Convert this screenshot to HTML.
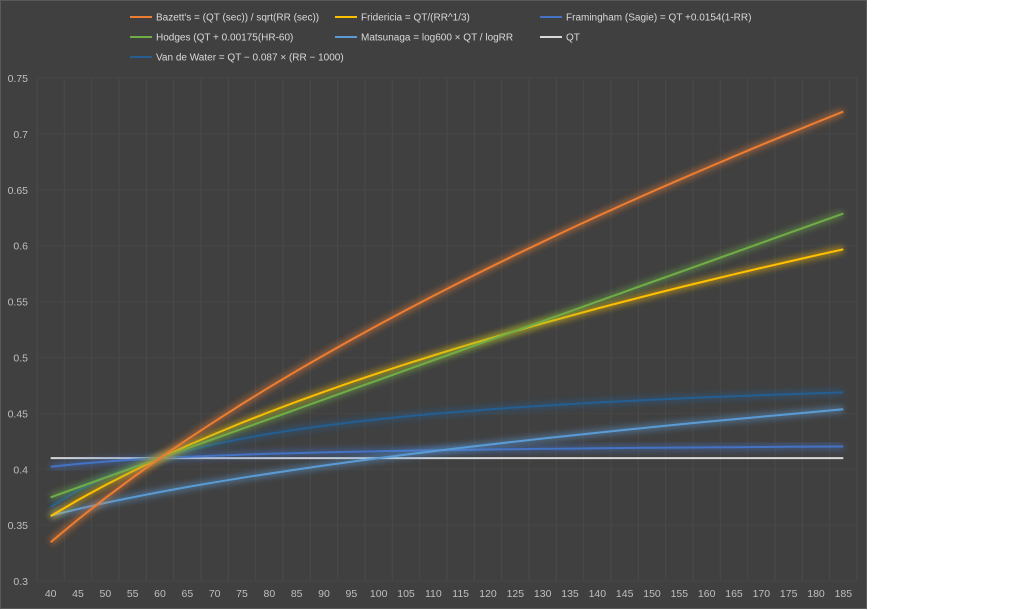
<!DOCTYPE html>
<html><head><meta charset="utf-8"><style>
html,body{margin:0;padding:0;background:#fff;width:1024px;height:610px;overflow:hidden}
svg{display:block}
text{font-family:"Liberation Sans",sans-serif}
</style></head><body>
<svg id="s" width="1024" height="610" xmlns="http://www.w3.org/2000/svg">
<defs><filter id="g" x="-10%" y="-20%" width="120%" height="140%"><feGaussianBlur stdDeviation="3.2"/></filter></defs>
<rect x="0" y="0" width="867" height="609" fill="#404040"/>
<rect x="0.5" y="0.5" width="866" height="608" fill="none" stroke="#595959"/>
<g id="grid"></g>
<g id="lines"></g>
<g id="lab" font-size="10.5" fill="#bfbfbf"></g>
<g font-size="10" fill="#d9d9d9">
<line x1="130" y1="17" x2="152" y2="17" stroke="#ED7D31" stroke-width="2"/><text x="156" y="20.5">Bazett's = (QT (sec)) / sqrt(RR (sec))</text>
<line x1="335" y1="17" x2="357" y2="17" stroke="#FFC000" stroke-width="2"/><text x="361" y="20.5">Fridericia = QT/(RR^1/3)</text>
<line x1="540" y1="17" x2="562" y2="17" stroke="#4472C4" stroke-width="2"/><text x="566" y="20.5">Framingham (Sagie) = QT +0.0154(1-RR)</text>
<line x1="130" y1="37" x2="152" y2="37" stroke="#70AD47" stroke-width="2"/><text x="156" y="40.5">Hodges (QT + 0.00175(HR-60)</text>
<line x1="335" y1="37" x2="357" y2="37" stroke="#5B9BD5" stroke-width="2"/><text x="361" y="40.5">Matsunaga = log600 × QT / logRR</text>
<line x1="540" y1="37" x2="562" y2="37" stroke="#D9D9D9" stroke-width="2"/><text x="566" y="40.5">QT</text>
<line x1="130" y1="57" x2="152" y2="57" stroke="#255E91" stroke-width="2"/><text x="156" y="60.5">Van de Water = QT − 0.087 × (RR − 1000)</text>
</g>
</svg>
<script>
var NS="http://www.w3.org/2000/svg";
function el(p,t,a,txt){var e=document.createElementNS(NS,t);for(var k in a)e.setAttribute(k,a[k]);if(txt!=null)e.textContent=txt;document.getElementById(p).appendChild(e);}
var L=37,R=857,step=(R-L)/30;
function Y(v){return 78+(0.75-v)/0.05*55.9;}
for(var i=0;i<=9;i++){var v=0.3+i*0.05,y=Y(v);
 el("grid","line",{x1:L,x2:R,y1:y,y2:y,stroke:"#464646","stroke-width":1});
 el("lab","text",{x:28,y:y+4,"text-anchor":"end"},(+v.toFixed(2)).toString());}
for(var i=0;i<=30;i++){var x=L+i*step;el("grid","line",{x1:x,x2:x,y1:Y(0.75),y2:Y(0.3),stroke:"#4a4a4a","stroke-width":1});}
for(var i=0;i<30;i++){el("lab","text",{x:L+(i+0.5)*step,y:597,"text-anchor":"middle"},40+i*5);}
var Q=0.41;
var S=[
["#D9D9D9",function(h,r){return Q;}],
["#255E91",function(h,r){return Q-0.087*(r-1);}],
["#4472C4",function(h,r){return Q+0.0154*(1-r);}],
["#5B9BD5",function(h,r){return Math.log(600)*Q/Math.log(r*1000);}],
["#FFC000",function(h,r){return Q/Math.cbrt(r);}],
["#70AD47",function(h,r){return Q+0.00175*(h-60);}],
["#ED7D31",function(h,r){return Q/Math.sqrt(r);}]
];
S.forEach(function(s){var d="";for(var i=0;i<30;i++){var h=40+i*5,r=60/h;d+=(i?"L":"M")+(L+(i+0.5)*step).toFixed(1)+","+Y(s[1](h,r)).toFixed(1);}
 el("lines","path",{d:d,fill:"none",stroke:s[0],"stroke-width":6,opacity:0.55,filter:"url(#g)"});
 el("lines","path",{d:d,fill:"none",stroke:s[0],"stroke-width":2});});
</script>
</body></html>
